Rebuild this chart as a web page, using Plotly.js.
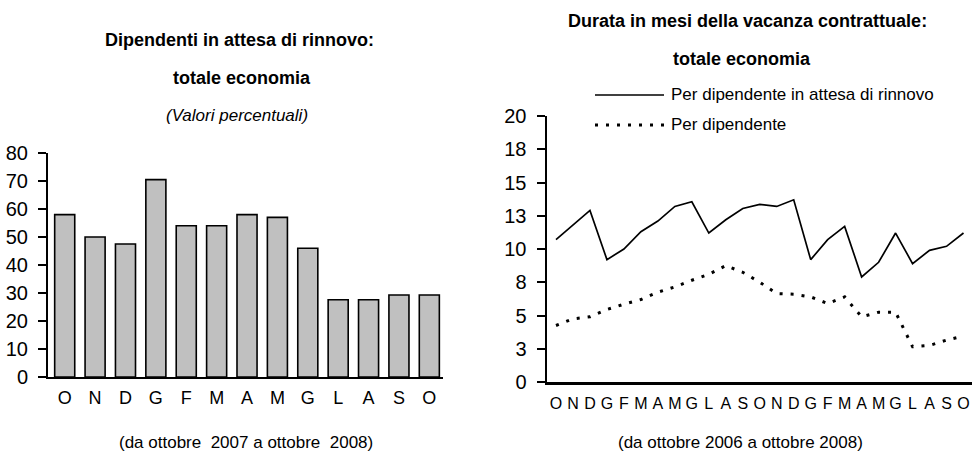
<!DOCTYPE html>
<html>
<head>
<meta charset="utf-8">
<script src="https://cdn.plot.ly/plotly-3.0.1.min.js"></script>
<style>html,body{margin:0;padding:0;background:#fff;}#chart{width:972px;height:454px;}</style>
</head>
<body>
<div id="chart"></div>
<script>
// ---- Data ----
const barMonths = ['O','N','D','G','F','M','A','M','G','L','A','S','O'];
const barValues = [58, 50, 47.5, 70.5, 54, 54, 58, 57, 46, 27.6, 27.6, 29.3, 29.3];

const lineMonths = ['O','N','D','G','F','M','A','M','G','L','A','S',
                    'O','N','D','G','F','M','A','M','G','L','A','S','O'];
const perDipendenteAttesa = [10.7, 11.8, 12.9, 9.2, 10.0, 11.3, 12.1, 13.2, 13.55, 11.2, 12.2, 13.05,
                             13.35, 13.2, 13.7, 9.2, 10.7, 11.7, 7.9, 9.0, 11.2, 8.9, 9.9, 10.2, 11.2];
const perDipendente = [4.25, 4.75, 4.9, 5.45, 5.85, 6.2, 6.75, 7.15, 7.65, 8.1, 8.75, 8.25,
                       7.5, 6.65, 6.6, 6.4, 5.9, 6.4, 4.9, 5.25, 5.25, 2.65, 2.75, 3.15, 3.45];

const leftYTicks = [0,10,20,30,40,50,60,70,80];
const rightYTickVals = [0,2.5,5,7.5,10,12.5,15,17.5,20];
const rightYTickText = ['0','3','5','8','10','13','15','18','20'];

const leftTitle1 = 'Dipendenti in attesa di rinnovo:';
const leftTitle2 = 'totale economia';
const leftSubtitle = '(Valori percentuali)';
const leftCaption = '(da ottobre  2007 a ottobre  2008)';
const rightTitle1 = 'Durata in mesi della vacanza contrattuale:';
const rightTitle2 = 'totale economia';
const seriesNames = ['Per dipendente in attesa di rinnovo', 'Per dipendente'];
const rightCaption = '(da ottobre 2006 a ottobre 2008)';

// ---- Layout helpers ----
const W = 972, H = 454;
const FONT = '"Liberation Sans Narrow", "Arial Narrow", "Liberation Sans", Arial, sans-serif';
const px = v => v / W;
const py = v => 1 - v / H;

const barX = barMonths.map((_, i) => i);
const lineX = lineMonths.map((_, i) => i);
const DOT = '3px,8px';

const traces = [
  {
    type: 'bar', x: barX, y: barValues, xaxis: 'x', yaxis: 'y',
    marker: {color: '#c0c0c0', line: {color: '#000', width: 1.6}},
    showlegend: false, hoverinfo: 'y'
  },
  {
    type: 'scatter', mode: 'lines', x: lineX, y: perDipendenteAttesa, xaxis: 'x2', yaxis: 'y2',
    name: seriesNames[0], line: {color: '#000', width: 1.7}, showlegend: false
  },
  {
    type: 'scatter', mode: 'lines', x: lineX, y: perDipendente, xaxis: 'x2', yaxis: 'y2',
    name: seriesNames[1], line: {color: '#000', width: 3, dash: DOT}, showlegend: false
  }
];

function ann(text, x, y, opts) {
  return Object.assign({
    text: text, x: px(x), y: py(y), xref: 'paper', yref: 'paper',
    showarrow: false, xanchor: 'center', yanchor: 'middle',
    font: {family: FONT, size: 18, color: '#000'}
  }, opts || {});
}
const f = s => ({family: FONT, size: s, color: '#000'});

const layout = {
  width: W, height: H,
  margin: {l: 0, r: 0, t: 0, b: 0},
  paper_bgcolor: '#fff', plot_bgcolor: '#fff',
  showlegend: false,
  bargap: 0.34,
  font: {family: FONT, color: '#000'},
  xaxis: {
    domain: [px(48), px(443)], anchor: 'y',
    range: [-0.55, 12.45], tickvals: barX, ticktext: barMonths,
    showline: true, linecolor: '#000', linewidth: 2, ticks: '', showgrid: false, zeroline: false,
    tickfont: f(18), ticklabelstandoff: 3, fixedrange: true
  },
  yaxis: {
    domain: [py(377), py(153)], anchor: 'x',
    range: [0, 80], tickvals: leftYTicks,
    showline: true, linecolor: '#000', linewidth: 2, ticks: 'outside', ticklen: 8, tickwidth: 2, tickcolor: '#000',
    showgrid: false, zeroline: false, tickfont: f(20), ticklabelstandoff: 6, fixedrange: true
  },
  xaxis2: {
    domain: [px(547), 1], anchor: 'y2',
    range: [-0.53, 24.5], tickvals: lineX, ticktext: lineMonths,
    showline: true, linecolor: '#000', linewidth: 2.5, ticks: '', showgrid: false, zeroline: false,
    tickfont: f(16), ticklabelstandoff: 5, fixedrange: true
  },
  yaxis2: {
    domain: [py(382), py(116)], anchor: 'x2',
    range: [0, 20], tickvals: rightYTickVals, ticktext: rightYTickText,
    showline: true, linecolor: '#000', linewidth: 2.5, ticks: 'outside', ticklen: 8, tickwidth: 2, tickcolor: '#000',
    showgrid: false, zeroline: false, tickfont: f(20), ticklabelstandoff: 6, fixedrange: true
  },
  shapes: [
    {type: 'line', xref: 'paper', yref: 'paper', x0: px(595), x1: px(664), y0: py(95), y1: py(95),
     line: {color: '#000', width: 1.7}},
    {type: 'line', xref: 'paper', yref: 'paper', x0: px(595), x1: px(666), y0: py(125), y1: py(125),
     line: {color: '#000', width: 3, dash: DOT}}
  ],
  annotations: [
    ann('<b>' + leftTitle1 + '</b>', 239, 40),
    ann('<b>' + leftTitle2 + '</b>', 242, 78),
    ann('<i>' + leftSubtitle + '</i>', 237, 115, {font: f(17)}),
    ann(leftCaption, 246, 453, {font: f(17), yanchor: 'bottom', borderpad: 0}),
    ann('<b>' + rightTitle1 + '</b>', 747, 21),
    ann('<b>' + rightTitle2 + '</b>', 742, 59),
    ann(seriesNames[0], 669, 94, {xanchor: 'left', font: f(17)}),
    ann(seriesNames[1], 669, 124, {xanchor: 'left', font: f(17)}),
    ann(rightCaption, 740, 453, {font: f(17), yanchor: 'bottom', borderpad: 0})
  ]
};

Plotly.newPlot('chart', traces, layout, {displayModeBar: false, staticPlot: true});
</script>
</body>
</html>
